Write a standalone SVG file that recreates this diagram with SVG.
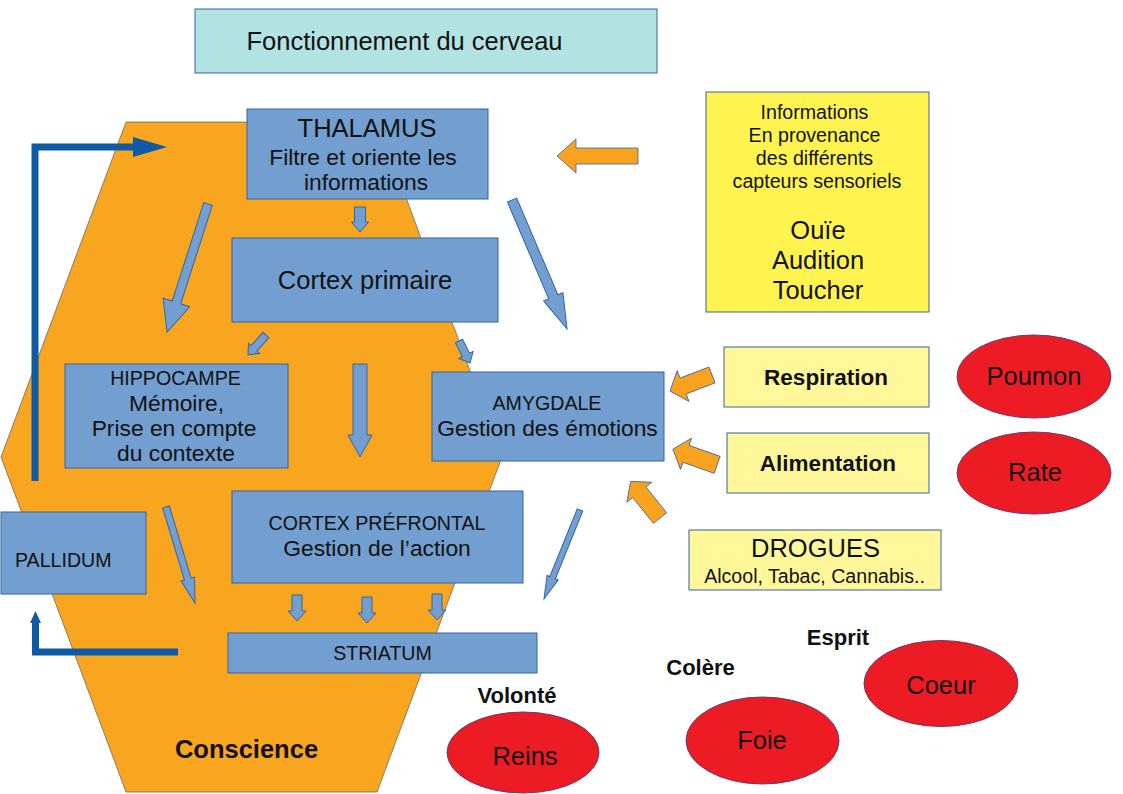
<svg xmlns="http://www.w3.org/2000/svg" width="1123" height="794" viewBox="0 0 1123 794">
<style>
text{font-family:"Liberation Sans",Arial,sans-serif;fill:#111}
.c{text-anchor:middle}
.b{font-weight:bold}
.L{font-size:25.5px}
.M{font-size:22.8px}
.S{font-size:19.6px}
.bx{fill:#729fcf;stroke:#3465a4;stroke-width:1}
.yl{fill:#fff44f;stroke:#3465a4;stroke-width:1}
.ly{fill:#fff799;stroke:#3465a4;stroke-width:1}
.rd{fill:#ed1c24;stroke:#6a3a6a;stroke-width:1}
.ba{fill:#729fcf;stroke:#3465a4;stroke-width:1}
.oa{fill:#f8a21d;stroke:#3465a4;stroke-width:0.8}
.dl{fill:none;stroke:#0e5aa5;stroke-width:7}
.dh{fill:#0e5aa5}
</style>
<polygon id="hexagone" points="126,122 378,122 502,457 377,792 126,792 1,457" fill="#f8a51f" stroke="#6b6b6b" stroke-width="0.8"/>
<g id="connecteurs">
<path class="dl" d="M35,481 V147 H136"/>
<polygon class="dh" points="133,137 167,147 133,157"/>
<path class="dl" d="M178,652 H35.5 V621"/>
<polygon class="dh" points="30,623 35.5,611 41,623"/>
<g id="fleches-bleues">
<polygon class="ba" transform="translate(360,207) rotate(90)" points="0,-5.5 15,-5.5 15,-8.5 25,0 15,8.5 15,5.5 0,5.5"/>
<polygon class="ba" transform="translate(208,204) rotate(107.76)" points="0,-4.5 103.4,-4.5 103.4,-14 134.4,0 103.4,14 103.4,4.5 0,4.5"/>
<polygon class="ba" transform="translate(512,200) rotate(66.9)" points="0,-5 105.2,-5 105.2,-10.5 140.2,0 105.2,10.5 105.2,5 0,5"/>
<polygon class="ba" transform="translate(266,335) rotate(132)" points="0,-4 17.9,-4 17.9,-7.5 26.9,0 17.9,7.5 17.9,4 0,4"/>
<polygon class="ba" transform="translate(459,341) rotate(63.4)" points="0,-4 15.6,-4 15.6,-8 24.6,0 15.6,8 15.6,4 0,4"/>
<polygon class="ba" transform="translate(360,364) rotate(90)" points="0,-7 71,-7 71,-12 93,0 71,12 71,7 0,7"/>
<polygon class="ba" transform="translate(166,507) rotate(73.19)" points="0,-3.5 75.3,-3.5 75.3,-7 100.3,0 75.3,7 75.3,3.5 0,3.5"/>
<polygon class="ba" transform="translate(580,510) rotate(112.03)" points="0,-3 73,-3 73,-6 96,0 73,6 73,3 0,3"/>
<polygon class="ba" transform="translate(297,595) rotate(90)" points="0,-5 16,-5 16,-9 26,0 16,9 16,5 0,5"/>
<polygon class="ba" transform="translate(367,597) rotate(90)" points="0,-5 16,-5 16,-9 26,0 16,9 16,5 0,5"/>
<polygon class="ba" transform="translate(437,594) rotate(90)" points="0,-5 16,-5 16,-9 26,0 16,9 16,5 0,5"/>
</g>
<g id="fleches-orange">
<polygon class="oa" points="638,148 576,148 576,139 557,156 576,173 576,164 638,164"/>
<polygon class="oa" transform="translate(691,383) rotate(-21)" points="-22.5,0 -8.5,-16.5 -8.5,-8.5 22.5,-8.5 22.5,8.5 -8.5,8.5 -8.5,16.5"/>
<polygon class="oa" transform="translate(695,457) rotate(19.5)" points="-23.5,0 -9.5,-16.5 -9.5,-9 23.5,-9 23.5,9 -9.5,9 -9.5,16.5"/>
<polygon class="oa" transform="translate(645.3,499.7) rotate(51.2)" points="-23.5,0 -9.5,-16 -9.5,-8.5 23.5,-8.5 23.5,8.5 -9.5,8.5 -9.5,16"/>
</g>
</g>
<g id="titre">
<rect x="195" y="9" width="462" height="64" fill="#b3e2e2" stroke="#3465a4"/>
<text class="c L" x="404.5" y="50">Fonctionnement du cerveau</text>
</g>
<g id="thalamus">
<rect class="bx" x="247" y="109" width="241" height="90"/>
<text class="c L" x="367" y="137">THALAMUS</text>
<text class="c M" x="363" y="165">Filtre et oriente les</text>
<text class="c M" x="366" y="190">informations</text>
</g>
<g id="cortex-primaire">
<rect class="bx" x="232" y="238" width="266" height="84"/>
<text class="c L" x="365" y="289">Cortex primaire</text>
</g>
<g id="hippocampe">
<rect class="bx" x="65" y="364" width="223" height="104"/>
<text class="c S" x="175.5" y="385">HIPPOCAMPE</text>
<text class="c M" x="176.5" y="411">Mémoire,</text>
<text class="c M" x="174" y="436">Prise en compte</text>
<text class="c M" x="176" y="461">du contexte</text>
</g>
<g id="amygdale">
<rect class="bx" x="432" y="372" width="232" height="89"/>
<text class="c S" x="547" y="410">AMYGDALE</text>
<text class="c M" x="547.5" y="436">Gestion des émotions</text>
</g>
<g id="cortex-prefrontal">
<rect class="bx" x="232" y="491" width="291" height="92"/>
<text class="c S" x="377" y="530">CORTEX PRÉFRONTAL</text>
<text class="c M" x="377" y="556">Gestion de l’action</text>
</g>
<g id="pallidum">
<rect class="bx" x="1" y="512" width="145" height="82"/>
<text class="S" x="15" y="567">PALLIDUM</text>
</g>
<g id="striatum">
<rect class="bx" x="228" y="633" width="309" height="40"/>
<text class="c S" x="382.5" y="660">STRIATUM</text>
</g>
<g id="informations">
<rect class="yl" x="706" y="92" width="223" height="220"/>
<text class="c S" x="814.5" y="119">Informations</text>
<text class="c S" x="814.5" y="142">En provenance</text>
<text class="c S" x="814.5" y="165">des différents</text>
<text class="c S" x="817" y="188">capteurs sensoriels</text>
<text class="c L" x="818" y="239">Ouïe</text>
<text class="c L" x="818" y="269">Audition</text>
<text class="c L" x="818" y="299">Toucher</text>
</g>
<g id="respiration">
<rect class="ly" x="724" y="347" width="205" height="60"/>
<text class="c b" style="font-size:22.5px" x="826" y="385">Respiration</text>
</g>
<g id="alimentation">
<rect class="ly" x="727" y="433" width="202" height="60"/>
<text class="c b" style="font-size:22.5px" x="828" y="471">Alimentation</text>
</g>
<g id="drogues">
<rect class="ly" x="689" y="530" width="252" height="60"/>
<text class="c L" x="815.5" y="557">DROGUES</text>
<text class="c S" x="814.5" y="583">Alcool, Tabac, Cannabis..</text>
</g>
<g id="poumon">
<ellipse class="rd" cx="1034" cy="376.5" rx="77" ry="41.5"/>
<text class="c L" x="1034" y="385">Poumon</text>
</g>
<g id="rate">
<ellipse class="rd" cx="1034" cy="473" rx="77" ry="41"/>
<text class="c L" x="1035" y="481">Rate</text>
</g>
<g id="coeur">
<ellipse class="rd" cx="941" cy="683.5" rx="77" ry="43"/>
<text class="c L" x="941" y="694">Coeur</text>
</g>
<g id="foie">
<ellipse class="rd" cx="762.5" cy="740.5" rx="76.5" ry="43.5"/>
<text class="c L" x="762" y="749">Foie</text>
</g>
<g id="reins">
<ellipse class="rd" cx="523" cy="752.5" rx="76" ry="40.5"/>
<text class="c L" x="525" y="765">Reins</text>
</g>
<g id="etiquettes">
<text class="c b" style="font-size:22px" x="838" y="645">Esprit</text>
<text class="c b" style="font-size:22px" x="700.5" y="675">Colère</text>
<text class="c b" style="font-size:22px" x="517" y="703">Volonté</text>
<text class="c b L" x="246.5" y="758">Conscience</text>
</g>
</svg>
